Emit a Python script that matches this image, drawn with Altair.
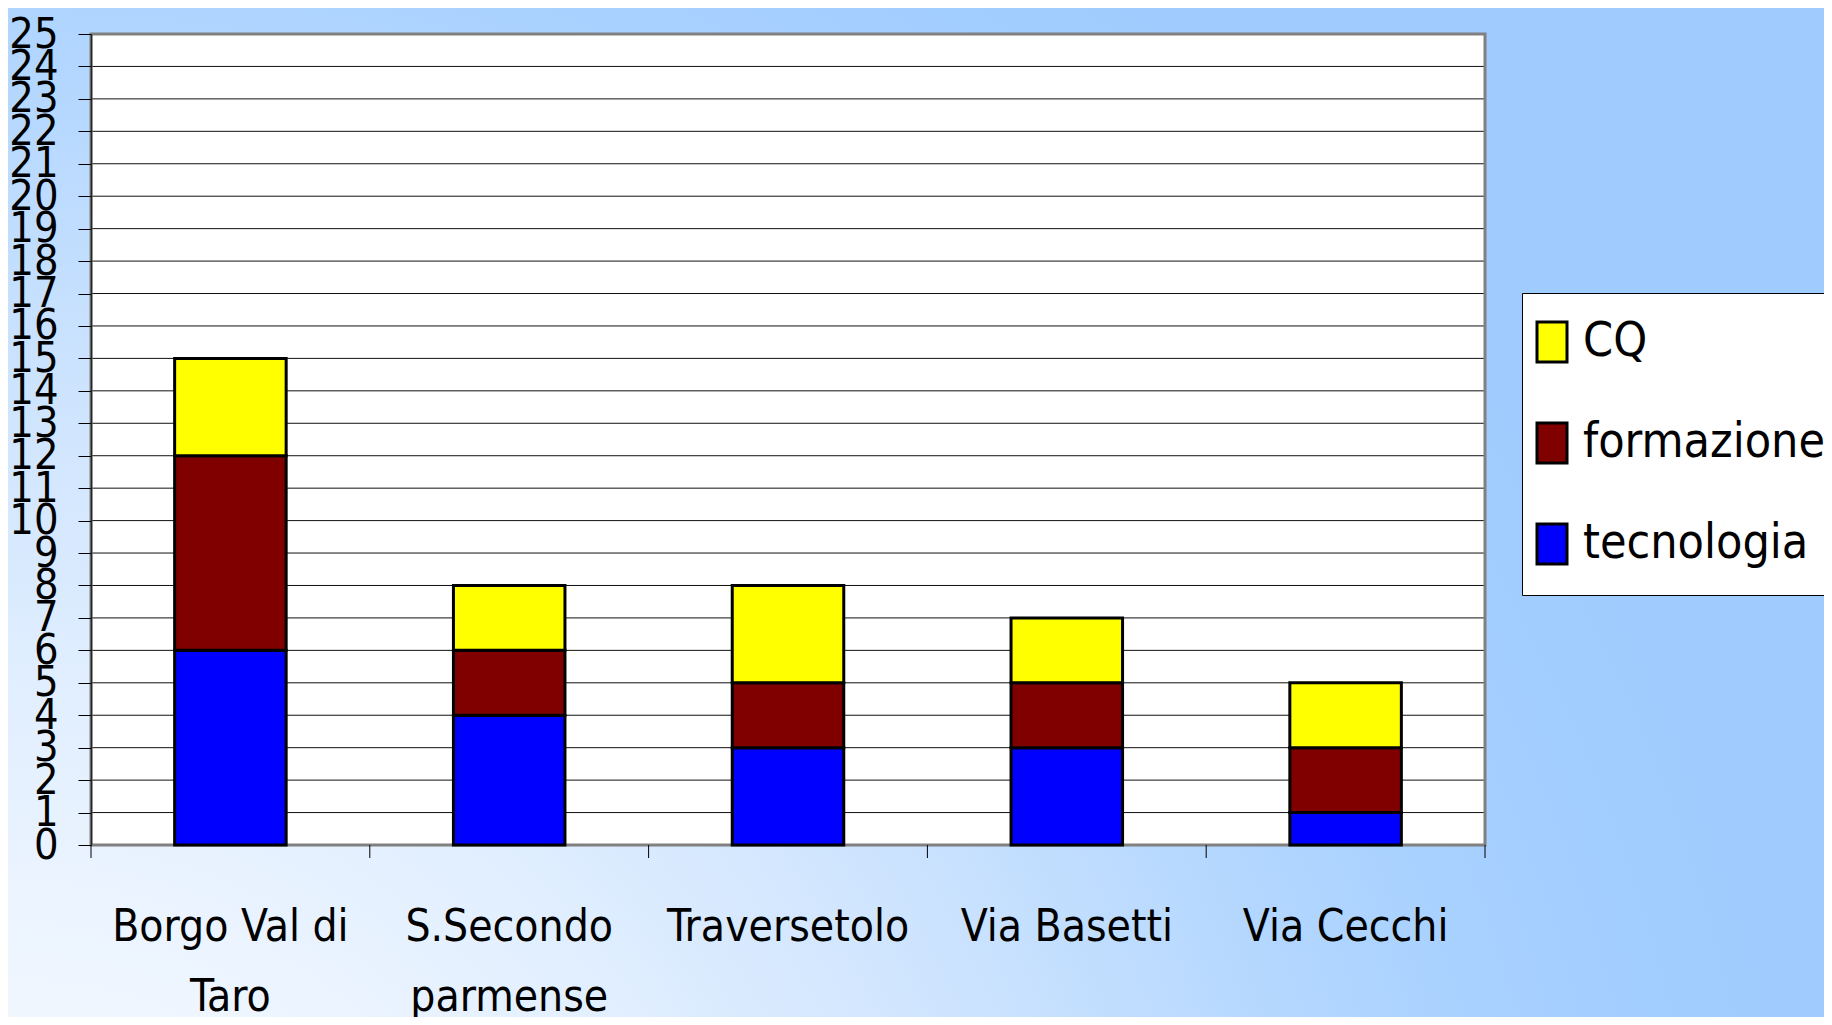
import altair as alt
import pandas as pd

# ---- data ----
categories = ["Borgo Val di Taro", "S.Secondo parmense", "Traversetolo", "Via Basetti", "Via Cecchi"]
tecnologia = [6, 4, 3, 3, 1]
formazione = [6, 2, 2, 2, 2]
cq = [3, 2, 3, 2, 2]
series = ["CQ", "formazione", "tecnologia"]
series_colors = ["#ffff00", "#800000", "#0000ff"]
y_ticks = list(range(0, 26))
x_tick_positions = list(range(0, 6))  # category boundaries
label_lines = {"Borgo Val di Taro": ["Borgo Val di", "Taro"],
               "S.Secondo parmense": ["S.Secondo", "parmense"]}

rows = []
for i, c in enumerate(categories):
    rows.append({"cat": c, "serie": "tecnologia", "val": tecnologia[i], "o": 0})
    rows.append({"cat": c, "serie": "formazione", "val": formazione[i], "o": 1})
    rows.append({"cat": c, "serie": "CQ", "val": cq[i], "o": 2})
df = pd.DataFrame(rows)

W, H = 1394, 811
PAD = {"left": 83, "top": 26, "right": 339, "bottom": 172}
FONT = "DejaVu Sans Condensed, Liberation Sans Narrow, Liberation Sans"

label_expr = ""
for k, v in label_lines.items():
    label_expr += "datum.label == '%s' ? ['%s', '%s'] : " % (k, v[0], v[1])
label_expr += "datum.label"

y_axis = alt.Axis(values=y_ticks, title=None, grid=False, tickSize=13, tickColor="#000",
                  domainColor="#222", domainWidth=1.5, labelFont=FONT, labelFontSize=43,
                  labelColor="#000", labelPadding=20, labelOverlap=False, labelBaseline="middle",
                  labelLimit=0, zindex=1)
y_scale = alt.Scale(domain=[0, 25], nice=False, zero=True)

bg_gradient = {
    "gradient": "radial", "x1": 0, "y1": 1, "r1": 0, "x2": 0, "y2": 1, "r2": 1,
    "stops": [
        {"offset": 0, "color": "#ffffff"},
        {"offset": 0.15, "color": "#f6faff"},
        {"offset": 0.375, "color": "#e4f0ff"},
        {"offset": 0.55, "color": "#d0e5fe"},
        {"offset": 0.75, "color": "#b2d6ff"},
        {"offset": 0.9, "color": "#a3ceff"},
        {"offset": 1, "color": "#9fcbfe"},
    ],
}

one = alt.Data(values=[{"k": 0}])

background = alt.Chart(one).mark_rect(fill=bg_gradient, strokeWidth=0).encode(
    x=alt.value(-PAD["left"]), x2=alt.value(W + PAD["right"]),
    y=alt.value(-PAD["top"]), y2=alt.value(H + PAD["bottom"]))

plot_bg = alt.Chart(one).mark_rect(fill="white", strokeWidth=0).encode(
    x=alt.value(0), x2=alt.value(W), y=alt.value(0), y2=alt.value(H))

grid = alt.Chart(pd.DataFrame({"v": y_ticks})).mark_rule(color="#111", strokeWidth=1).encode(
    y=alt.Y("v:Q", scale=y_scale, axis=y_axis))

border = alt.Chart(one).mark_rect(fill=None, stroke="#808080", strokeWidth=3).encode(
    x=alt.value(0), x2=alt.value(W), y=alt.value(0), y2=alt.value(H))

bars = alt.Chart(df).mark_bar(stroke="#000", strokeWidth=3).encode(
    x=alt.X("cat:N", sort=categories,
            scale=alt.Scale(paddingInner=0.6, paddingOuter=0.3),
            axis=alt.Axis(title=None, ticks=False, domain=False, labelAngle=0,
                          labelFont=FONT, labelFontSize=44, labelColor="#000",
                          labelPadding=60, labelLineHeight=70, labelExpr=label_expr,
                          labelBaseline="top", labelLimit=0, zindex=1)),
    y=alt.Y("val:Q", stack="zero", scale=y_scale, axis=y_axis),
    color=alt.Color("serie:N", scale=alt.Scale(domain=series, range=series_colors),
                    legend=alt.Legend(title=None, orient="none", legendX=1431, legendY=259,
                                      fillColor="white", strokeColor="#000", padding=25,
                                      labelFont=FONT, labelFontSize=48, labelColor="#000",
                                      labelOffset=7, symbolOffset=-19, rowPadding=49,
                                      labelLimit=0,
                                      symbolType="M-1,-1.333H1V1.333H-1Z", symbolSize=900,
                                      symbolStrokeColor="#000", symbolStrokeWidth=3,
                                      symbolOpacity=1)),
    order=alt.Order("o:Q", sort="ascending"),
)

xticks = alt.Chart(pd.DataFrame({"b": x_tick_positions})).mark_rule(color="#000", strokeWidth=1).encode(
    x=alt.X("b:Q", scale=alt.Scale(domain=[0, 5], nice=False, zero=False), axis=None),
    y=alt.value(H), y2=alt.value(H + 13))

chart = alt.layer(background, plot_bg, grid, border, bars, xticks).resolve_scale(
    x="independent").properties(
    width=W, height=H, padding=PAD, autosize="none", background="white"
).configure_view(stroke=None)

chart.save("out.html", embed_options={"renderer": "svg", "actions": False})
